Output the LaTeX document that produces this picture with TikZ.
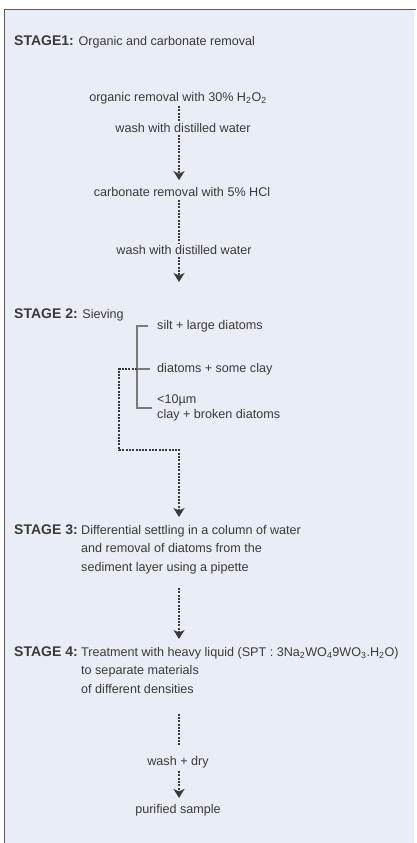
\documentclass[tikz,border=0pt]{standalone}
\usepackage{fontspec}
\setmainfont{Liberation Sans}
\usetikzlibrary{arrows.meta}
\definecolor{bgc}{HTML}{E9EDF5}
\definecolor{txt}{HTML}{3A3A3A}
\definecolor{frame}{HTML}{5A5A5A}
\definecolor{brk}{HTML}{7A7A7A}
\newcommand\stagelbl[1]{{\fontsize{14}{18.5}\selectfont\bfseries #1}}
\tikzset{
  lbl/.style={inner sep=0pt, text=txt, font=\fontsize{12.6}{18.5}\selectfont},
  body/.style={lbl, align=left},
  dots/.style={draw=txt, line width=1.6pt, dash pattern=on 2pt off 1.3pt},
  dotarrow/.style={dots, -{Stealth[length=9pt,width=11pt,inset=2.5pt,fill=txt]}},
  brline/.style={draw=brk, line width=2pt},
}
\begin{document}
\begin{tikzpicture}[x=1pt,y=-1pt]
\useasboundingbox (0,0) rectangle (417,843);
\fill[bgc] (4.5,9.3) rectangle (414,843);
\draw[frame, line width=1.4pt] (4.7,843) -- (4.7,9.3) -- (416,9.3);

\coordinate (ax) at (179,0);
\coordinate (bx) at (137,0);

% Stage 1
\node[lbl, anchor=west] (s1) at (14,42) {\stagelbl{STAGE1:} Organic and carbonate removal};
\node[lbl] (o1) at (178,98) {organic removal with 30\% H\textsubscript{2}O\textsubscript{2}};
\node[lbl] (w1) at (183,128) {wash with distilled water};
\node[lbl] (c1) at (182,192) {carbonate removal with 5\% HCl};
\node[lbl] (w2) at (184,250) {wash with distilled water};
\coordinate (e2) at (179,282);

\draw[dots] ([yshift=-2pt]o1.south -| ax) -- ([yshift=1pt]w1.north -| ax);
\draw[dotarrow] ([yshift=-2pt]w1.south -| ax) -- ([yshift=7pt]c1.north -| ax);
\draw[dots] ([yshift=-3pt]c1.south -| ax) -- ([yshift=2pt]w2.north -| ax);
\draw[dotarrow] ([yshift=-2pt]w2.south -| ax) -- (e2);

% Stage 2
\node[lbl, anchor=west] (s2) at (14,315) {\stagelbl{STAGE 2:} Sieving};
\node[lbl, anchor=west] (f1) at (157,326) {silt + large diatoms};
\node[lbl, anchor=west] (f2) at (157,369) {diatoms + some clay};
\node[body, anchor=west, font=\fontsize{12.6}{15}\selectfont] (f3) at (157,408) {<10µm\\clay + broken diatoms};

\draw[brline] ([xshift=-9pt]f1.west) -- (f1.west -| bx) -- (f3.west -| bx) -- ([xshift=-5pt]f3.west);
\draw[brline] (f2.west -| bx) -- ([xshift=-7pt]f2.west);

\coordinate (d1) at (119,450);

% Stage 3
\node[lbl, anchor=north west] (s3) at (14,524.5) {\stagelbl{STAGE 3:}};
\node[body, anchor=north west] (s3b) at (81,525) {Differential settling in a column of water\\and removal of diatoms from the\\sediment layer using a pipette};

\draw[dotarrow] (f2.west -| bx) -- (f2.west -| d1) -- (d1) -- (d1 -| ax) -- ([yshift=8pt]s3b.north -| ax);

% Stage 4
\node[lbl, anchor=north west] (s4) at (14,646.5) {\stagelbl{STAGE 4:}};
\node[body, anchor=north west] (s4b) at (81,647) {Treatment with heavy liquid (SPT : 3Na\textsubscript{2}WO\textsubscript{4}9WO\textsubscript{3}.H\textsubscript{2}O)\\to separate materials\\of different densities};

\draw[dotarrow] ([yshift=-14pt]s3b.south -| ax) -- ([yshift=8pt]s4b.north -| ax);

\node[lbl] (wd) at (178,762) {wash + dry};
\node[lbl] (ps) at (178,810) {purified sample};

\draw[dots] ([yshift=-20pt]s4b.south -| ax) -- ([yshift=10pt]wd.north -| ax);
\draw[dotarrow] ([yshift=-3pt]wd.south -| ax) -- ([yshift=6pt]ps.north -| ax);
\end{tikzpicture}
\end{document}
